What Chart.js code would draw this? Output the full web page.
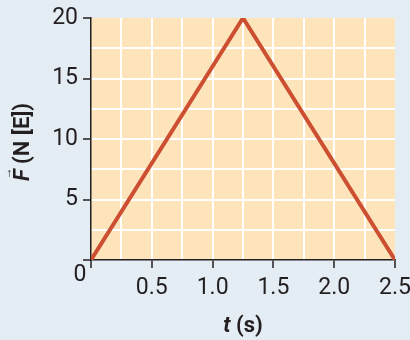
<!DOCTYPE html>
<html lang="en">
<head>
    <meta charset="UTF-8">
    <title>Force vs time</title>
    <script src="https://cdn.jsdelivr.net/npm/chart.js"></script>
    <style>
        body { margin: 0; background: #e4edf4; }
        canvas { display: block; }
    </style>
</head>
<body>
    <canvas id="myChart" width="410" height="340"></canvas>
    <script>
        // data
        const times = [0, 1.25, 2.5];
        const forces = [0, 20, 0];
        const xTicks = [0.5, 1.0, 1.5, 2.0, 2.5];
        const yTicks = [5, 10, 15, 20];

        const fontName = "Roboto, 'Liberation Sans', sans-serif";
        const ink = '#231f20';

        const points = times.map((t, i) => ({ x: t, y: forces[i] }));

        const isMajor = (v, step) => Math.abs(v / step - Math.round(v / step)) < 1e-6;

        // orange plot area, shared "0" and the axis titles
        const decor = {
            id: 'decor',
            beforeDraw(chart) {
                const c = chart.ctx, a = chart.chartArea;
                c.save();
                c.fillStyle = '#fee4bb';
                c.fillRect(a.left, a.top, a.right - a.left, a.bottom - a.top);
                c.restore();
            },
            afterDraw(chart) {
                const c = chart.ctx, a = chart.chartArea;
                c.save();
                c.fillStyle = ink;
                c.textBaseline = 'middle';

                c.font = "23px " + fontName;
                c.textAlign = 'center';
                c.fillText('0', a.left - 11, a.bottom + 15);

                // x title: t (s)
                const cx = (a.left + a.right) / 2, cy = 326;
                c.font = "italic bold 22px " + fontName;
                const w1 = c.measureText('t').width;
                c.font = "bold 22px " + fontName;
                const w2 = c.measureText(' (s)').width;
                let x0 = cx - (w1 + w2) / 2;
                c.textAlign = 'left';
                c.font = "italic bold 22px " + fontName;
                c.fillText('t', x0, cy);
                c.font = "bold 22px " + fontName;
                c.fillText(' (s)', x0 + w1, cy);

                // y title: F (N [E]) with arrow over F
                c.translate(23, (a.top + a.bottom) / 2 + 3);
                c.rotate(-Math.PI / 2);
                c.font = "italic bold 22px " + fontName;
                const f1 = c.measureText('F').width;
                c.font = "bold 22px " + fontName;
                const f2 = c.measureText(' (N [E])').width;
                x0 = -(f1 + f2) / 2;
                c.font = "italic bold 22px " + fontName;
                c.fillText('F', x0, 0);
                c.font = "bold 22px " + fontName;
                c.fillText(' (N [E])', x0 + f1, 0);
                c.font = "12px " + fontName;
                c.textAlign = 'center';
                c.fillText('\u2192', x0 + f1 / 2 + 2, -15);
                c.restore();
            }
        };

        const ctx = document.getElementById('myChart');

        new Chart(ctx, {
            type: 'line',
            data: {
                datasets: [{
                    data: points,
                    borderColor: '#cc4f32',
                    borderWidth: 4,
                    borderJoinStyle: 'miter',
                    pointRadius: 0,
                    tension: 0
                }]
            },
            options: {
                responsive: false,
                animation: false,
                layout: { padding: { left: 0, top: 18, right: 15, bottom: 0 } },
                plugins: {
                    legend: { display: false },
                    tooltip: { enabled: false }
                },
                scales: {
                    x: {
                        type: 'linear',
                        min: 0,
                        max: 2.5,
                        afterFit(s) { s.height = 80; s.paddingLeft = 0; s.paddingRight = 0; },
                        ticks: {
                            stepSize: 0.25,
                            autoSkip: false,
                            maxRotation: 0,
                            padding: 6,
                            color: ink,
                            font: { family: fontName, size: 23 },
                            callback: (v) => xTicks.some(t => Math.abs(t - v) < 1e-6) ? v.toFixed(1) : ''
                        },
                        grid: {
                            color: (c) => (c.tick && (c.tick.value === 0 || c.tick.value === 2.5)) ? 'rgba(0,0,0,0)' : '#ffffff',
                            lineWidth: 2,
                            tickLength: 8,
                            tickWidth: 1.5,
                            tickColor: (c) => (c.tick && isMajor(c.tick.value, 0.5)) ? ink : 'rgba(0,0,0,0)'
                        },
                        border: { color: ink, width: 1.5 }
                    },
                    y: {
                        min: 0,
                        max: 20,
                        afterFit(s) { s.width = 91; s.paddingTop = 0; s.paddingBottom = 0; },
                        ticks: {
                            stepSize: 2.5,
                            autoSkip: false,
                            padding: 5,
                            color: ink,
                            font: { family: fontName, size: 23 },
                            callback: (v) => yTicks.includes(v) ? String(v) : ''
                        },
                        grid: {
                            color: (c) => (c.tick && (c.tick.value === 0 || c.tick.value === 20)) ? 'rgba(0,0,0,0)' : '#ffffff',
                            lineWidth: 2,
                            tickLength: 8,
                            tickWidth: 1.5,
                            tickColor: (c) => (c.tick && isMajor(c.tick.value, 5)) ? ink : 'rgba(0,0,0,0)'
                        },
                        border: { color: ink, width: 1.5 }
                    }
                }
            },
            plugins: [decor]
        });
    </script>
</body>
</html>
